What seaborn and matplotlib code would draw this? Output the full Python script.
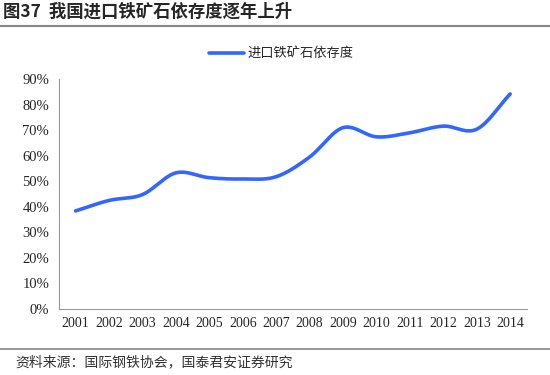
import numpy as np
import pandas as pd
import matplotlib
matplotlib.use("Agg")
import matplotlib.pyplot as plt
import seaborn as sns
from matplotlib.lines import Line2D

years = [2001, 2002, 2003, 2004, 2005, 2006, 2007, 2008, 2009, 2010, 2011, 2012, 2013, 2014]
dependence = [38.4, 42.5, 44.8, 53.3, 51.4, 50.9, 51.8, 59.5, 71.0, 67.4, 69.0, 71.6, 70.4, 84.2]
yticks = [0, 10, 20, 30, 40, 50, 60, 70, 80, 90]
title = "图37  我国进口铁矿石依存度逐年上升"
series_name = "进口铁矿石依存度"
source = "资料来源：国际钢铁协会，国泰君安证券研究"

sns.set_style("white")
plt.rcParams['font.family'] = ['Noto Sans CJK SC', 'DejaVu Sans']

# Smooth display curve (Catmull-Rom, like Excel smoothed lines)
x = np.arange(len(years), dtype=float)
y = np.array(dependence, dtype=float)
px = np.concatenate([[2 * x[0] - x[1]], x, [2 * x[-1] - x[-2]]])
py = np.concatenate([[2 * y[0] - y[1]], y, [2 * y[-1] - y[-2]]])
xs, ys = [], []
for i in range(1, len(px) - 2):
    t = np.linspace(0, 1, 30, endpoint=False)
    for arr, out in ((px, xs), (py, ys)):
        p0, p1, p2, p3 = arr[i - 1], arr[i], arr[i + 1], arr[i + 2]
        out.extend(0.5 * ((2 * p1) + (-p0 + p2) * t + (2 * p0 - 5 * p1 + 4 * p2 - p3) * t ** 2
                          + (-p0 + 3 * p1 - 3 * p2 + p3) * t ** 3))
xs.append(x[-1]); ys.append(y[-1])
df = pd.DataFrame({"x": xs, "y": ys})

fig = plt.figure(figsize=(5.5, 3.75), dpi=100)
ax = fig.add_axes([0.107, 0.176, 0.851, 0.613])
sns.lineplot(data=df, x="x", y="y", ax=ax, color="#3366FF", linewidth=2.6, sort=False)

ax.set_xlim(-0.5, len(years) - 0.5)
ax.set_ylim(0, 90)
ax.set_yticks(yticks)
ax.set_yticklabels([f"{v}%" for v in yticks], family="Liberation Serif", fontsize=10.5)
ax.set_xticks(x)
ax.set_xticklabels([str(v) for v in years], family="Liberation Serif", fontsize=10)
ax.set_xticks(np.arange(-0.5, len(years), 1.0), minor=True)
ax.tick_params(axis="x", which="major", length=0, pad=6)
ax.tick_params(axis="x", which="minor", length=4, color="#999999", direction="out")
ax.tick_params(axis="y", length=4, color="#999999", direction="out", pad=3)
ax.set_xlabel("")
ax.set_ylabel("")
for s in ["top", "right"]:
    ax.spines[s].set_visible(False)
for s in ["left", "bottom"]:
    ax.spines[s].set_color("#999999")
    ax.spines[s].set_linewidth(0.8)

fig.legend(handles=[Line2D([0], [0], color="#3366FF", linewidth=2.6)], labels=[series_name],
           loc="center", bbox_to_anchor=(0.512, 0.857), frameon=False, fontsize=9.5,
           handlelength=2.6, handletextpad=0.3)

fig.text(0.005, 0.968, title, fontsize=12.5, fontweight="bold", va="center", ha="left")
fig.add_artist(Line2D([0, 1], [0.93, 0.93], color="#888888", linewidth=1.5, transform=fig.transFigure))
fig.add_artist(Line2D([0, 1], [0.07, 0.07], color="#888888", linewidth=1.2, transform=fig.transFigure))
fig.text(0.027, 0.035, source, fontsize=10, va="center", ha="left", color="#333333")

fig.savefig("out.png", dpi=100)
